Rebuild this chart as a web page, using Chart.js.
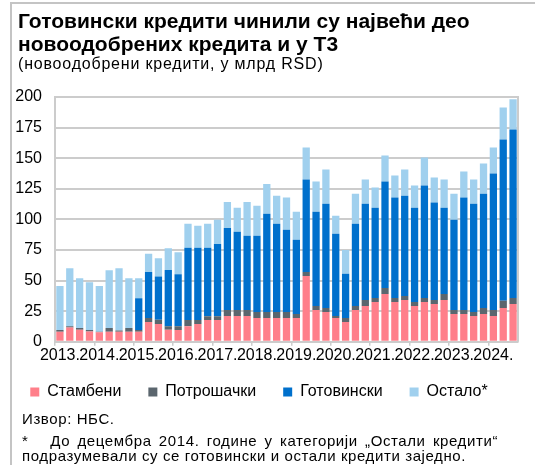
<!DOCTYPE html>
<html>
<head>
<meta charset="utf-8">
<script src="https://cdn.jsdelivr.net/npm/chart.js@4.4.1/dist/chart.umd.min.js"></script>
<style>
  body { margin: 0; background: #fff; font-family: "Liberation Sans", Arial, sans-serif; }
  #frame { position: absolute; left: 10px; top: 2px; width: 600px; height: 600px;
           border-top: 2px solid #c4c4c4; border-left: 2px solid #c4c4c4; }
  #title { position: absolute; left: 18px; top: 9px; font-size: 21px; font-weight: bold; line-height: 23px; color: #000; }
  #sub { position: absolute; left: 18px; top: 55px; font-size: 16px; line-height: 18px; letter-spacing: 0.8px; color: #000; }
  #wrap { position: absolute; left: 0; top: 0; }
  #src { position: absolute; left: 22px; top: 411px; font-size: 15px; line-height: 16px; letter-spacing: 0.6px; color: #000; }
  #note { position: absolute; left: 22px; top: 433px; width: 476px; font-size: 15px; line-height: 15px;
          letter-spacing: 0.6px; text-align: justify; color: #000; }
</style>
</head>
<body>
<div id="frame"></div>
<div id="wrap"><canvas id="chart" width="535" height="418"></canvas></div>
<div id="title">Готовински кредити чинили су највећи део<br>новоодобрених кредита и у Т3</div>
<div id="sub">(новоодобрени кредити, у млрд RSD)</div>
<div id="src">Извор: НБС.</div>
<div id="note">*&nbsp;&nbsp; До децембра 2014. године у категорији „Остали кредити“ подразумевали су се готовински и остали кредити заједно.</div>
<script>
// quarterly, 2013 Q1 .. 2024 Q3
const years = ['2013','2014','2015','2016','2017','2018','2019','2020','2021','2022','2023','2024'];
const quarters = [];
years.forEach(y => ['Q1','Q2','Q3','Q4'].forEach(q => quarters.push(y + ' ' + q)));
quarters.length = 47;

const stambeni = [8.2, 11.7, 9.8, 8.5, 7.9, 8.2, 8.2, 8.2, 8.2, 16.1, 14.5, 9.8,
  9.6, 12.8, 14.5, 17.8, 17.8, 21, 21, 21, 19.4, 19.4, 19.4, 19.4,
  19.4, 53.8, 26, 24.3, 19.4, 16.1, 26, 29.2, 32.5, 39.1, 32.5, 34.2,
  29.2, 32.5, 30.9, 34.2, 22.7, 22.7, 21, 22.7, 21, 27.6, 30.9];
const potrosacki = [1.4, 1.1, 1.4, 1.1, 0.3, 3.0, 1.1, 3.0, 1.4, 3.3, 3.5, 3.0,
  3.2, 5.0, 3.3, 3.0, 3.0, 5.0, 5.0, 5.0, 4.9, 4.9, 4.9, 4.9,
  3.3, 3.3, 3.2, 3.3, 1.6, 3.3, 3.2, 5.0, 3.3, 4.9, 3.3, 3.2,
  3.3, 3.3, 3.3, 4.9, 3.3, 3.3, 3.3, 4.9, 5.0, 6.0, 4.9];
const gotovinski = [0, 0, 0, 0, 0, 0, 0, 0, 25.9, 37.7, 35.3, 45.9,
  42.4, 59, 59, 56, 59, 66.9, 63.9, 60.6, 62.3, 80.3, 72.1, 67.2,
  60.6, 75.4, 77.1, 85.2, 67.3, 36.1, 67.2, 78.6, 73.8, 86.9, 82, 82,
  77.1, 91.8, 79.7, 70.5, 73.7, 91.8, 88.5, 93.4, 111.4, 131.7, 137.7];
const ostalo = [36, 47.3, 40.7, 39, 37.4, 47.3, 50.8, 40.7, 16.4, 14.8, 15, 17.8,
  18, 19.6, 18, 19.6, 19.9, 21.3, 19.7, 27.6, 24.6, 24.4, 23, 26.3,
  23, 26.2, 24.6, 27.9, 14.7, 19.6, 24.6, 19.7, 16.4, 21.3, 18, 21.3,
  18, 22.9, 20.3, 22.9, 21.3, 21.3, 19.7, 24.6, 21.3, 26.2, 24.6];
const seriesNames = ['Стамбени', 'Потрошачки', 'Готовински', 'Остало*'];

const gridColor = '#cccccc';
const font = "'Liberation Sans', Arial, sans-serif";

const rightBorder = {
  id: 'rightBorder',
  afterLayout(chart) {
    // pull the legend row up a little, closer to the axis labels
    chart.legend.top -= 8;
    chart.legend.bottom -= 8;
  },
  afterDraw(chart) {
    const a = chart.chartArea, c = chart.ctx;
    c.save();
    c.strokeStyle = gridColor;
    c.lineWidth = 2;
    c.beginPath();
    c.moveTo(a.right, a.top - 1);
    c.lineTo(a.right, a.bottom);
    c.stroke();
    c.restore();
  }
};

new Chart(document.getElementById('chart'), {
  type: 'bar',
  data: {
    labels: quarters,
    datasets: [
      { label: seriesNames[0], data: stambeni, backgroundColor: '#ff7f8a' },
      { label: seriesNames[1], data: potrosacki, backgroundColor: '#5b666e' },
      { label: seriesNames[2], data: gotovinski, backgroundColor: '#0070cc' },
      { label: seriesNames[3], data: ostalo, backgroundColor: '#a0d0ee' }
    ]
  },
  options: {
    responsive: false,
    animation: false,
    barPercentage: 0.74,
    categoryPercentage: 1,
    layout: { padding: { top: 97, right: 17, left: 0, bottom: 0 } },
    scales: {
      x: {
        stacked: true,
        grid: {
          drawOnChartArea: false,
          tickLength: 4,
          lineWidth: 1.5,
          color: ctx => (ctx.index % 4 === 0 ? gridColor : 'rgba(0,0,0,0)')
        },
        border: { color: gridColor, width: 2 },
        ticks: {
          autoSkip: false,
          maxRotation: 0,
          padding: 0,
          color: '#000',
          font: { family: font, size: 16 },
          callback: (v, i) => (i % 4 === 0 ? years[i / 4] + '.' : '')
        }
      },
      y: {
        stacked: true,
        min: 0,
        max: 200,
        afterFit: s => { s.width = 55; },
        grid: { color: gridColor, lineWidth: 2, drawTicks: false },
        border: { color: gridColor, width: 2 },
        ticks: {
          stepSize: 25,
          autoSkip: false,
          padding: 13,
          color: '#000',
          font: { family: font, size: 16 }
        }
      }
    },
    plugins: {
      legend: {
        position: 'bottom',
        labels: {
          boxWidth: 9,
          boxHeight: 9,
          padding: 27,
          color: '#000',
          font: { family: font, size: 16 }
        }
      },
      tooltip: { enabled: false }
    }
  },
  plugins: [rightBorder]
});
</script>
</body>
</html>
